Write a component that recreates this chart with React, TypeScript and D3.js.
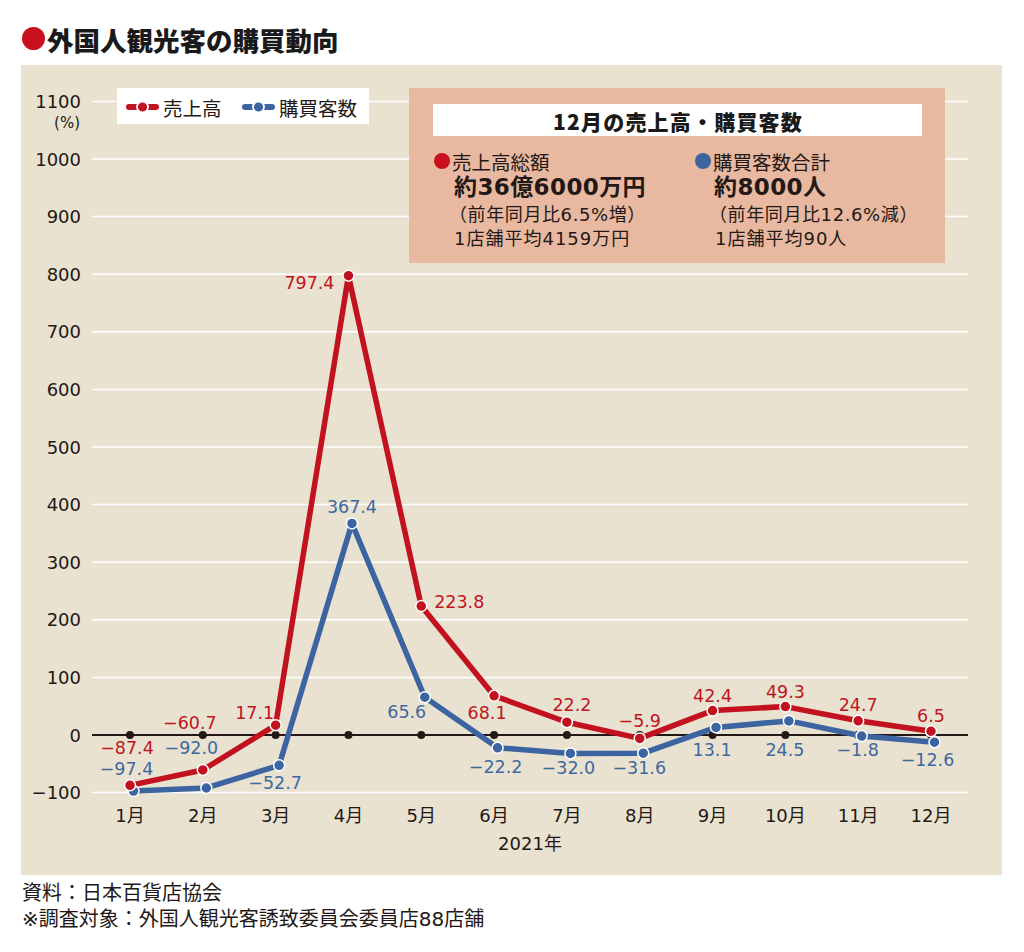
import React from "react";
import * as d3 from "d3";

const months = ["1月", "2月", "3月", "4月", "5月", "6月", "7月", "8月", "9月", "10月", "11月", "12月"];
const salesValues = [-87.4, -60.7, 17.1, 797.4, 223.8, 68.1, 22.2, -5.9, 42.4, 49.3, 24.7, 6.5];
const customerValues = [-97.4, -92.0, -52.7, 367.4, 65.6, -22.2, -32.0, -31.6, 13.1, 24.5, -1.8, -12.6];
const yTicks = [-100, 0, 100, 200, 300, 400, 500, 600, 700, 800, 900, 1000, 1100];
const seriesNames = ["売上高", "購買客数"];

// label placement offsets (dx, dy) relative to each point
const salesLabelOffsets: [number, number][] = [
  [-3, -37.5], [-13, -47], [-21, -12], [-39, 7], [38, -4], [-7, 17],
  [5, -17], [0, -17], [0, -15], [0, -15], [0, -16], [0, -15],
];
const customerLabelOffsets: [number, number][] = [
  [-7, -22], [-15, -40], [-4, 18], [0, -16], [-18, 15], [-2, 19],
  [-2, 15], [-4, 15], [-4, 23], [-4, 29], [-4, 14], [-7, 18],
];

const RED = "#c2111f";
const BLUE = "#3b64a0";
const RED_TXT = "#c0141e";
const BLUE_TXT = "#3f689f";
const NUM_FONT = "'DejaVu Sans', 'Noto Sans CJK JP', sans-serif";
const JP_FONT = "'Noto Sans CJK JP', sans-serif";

function fmt(v: number) {
  const s = Math.abs(v).toFixed(1);
  return v < 0 ? "−" + s : s;
}

export default function App() {
  const x = d3.scalePoint<string>().domain(months).range([130, 931]);
  const y = d3.scaleLinear().domain([-100, 1100]).range([792.6, 101.4]);
  const blueShift = 3.5;

  const redLine = d3
    .line<number>()
    .x((_, i) => x(months[i]) as number)
    .y((d) => y(d));
  const blueLine = d3
    .line<number>()
    .x((_, i) => (x(months[i]) as number) + blueShift)
    .y((d) => y(d));

  const gridLeft = 92;
  const gridRight = 968;

  return (
    <svg
      width={1024}
      height={952}
      style={{ position: "absolute", left: 0, top: 0, background: "#ffffff" }}
    >
      <rect x={0} y={0} width={1024} height={952} fill="#ffffff" />
      {/* Title */}
      <circle cx={33.5} cy={38.5} r={11.5} fill="#c9101c" />
      <text
        x={47}
        y={39}
        dominantBaseline="central"
        fontFamily={JP_FONT}
        fontWeight={900}
        fontSize={26.5}
        fill="#1a1a1a"
      >
        外国人観光客の購買動向
      </text>

      {/* Panel */}
      <rect x={21} y={65} width={981} height={810} fill="#e9e2d0" />

      {/* Grid */}
      {yTicks.filter((t) => t !== 0).map((t) => (
        <line key={t} x1={gridLeft} x2={gridRight} y1={y(t)} y2={y(t)} stroke="#ffffff" strokeWidth={1.5} />
      ))}
      {yTicks.map((t) => (
        <text
          key={"yl" + t}
          x={81}
          y={y(t)}
          textAnchor="end"
          dominantBaseline="central"
          fontFamily={NUM_FONT}
          fontSize={18}
          fill="#231815"
        >
          {t < 0 ? "−" + Math.abs(t) : String(t)}
        </text>
      ))}
      <text x={80} y={123} textAnchor="end" dominantBaseline="central" fontFamily={NUM_FONT} fontSize={15} fill="#231815">
        (%)
      </text>

      {/* Legend */}
      <rect x={117} y={88} width={252} height={36} fill="#ffffff" />
      {[RED, BLUE].map((c, i) => {
        const lx = i === 0 ? 127 : 243;
        return (
          <g key={"lg" + i}>
            <line x1={lx + 2} x2={lx + 29} y1={107} y2={107} stroke={c} strokeWidth={6} strokeLinecap="round" />
            <circle cx={lx + 15.5} cy={107} r={5.5} fill={c} stroke="#ffffff" strokeWidth={1.8} />
            <text
              x={lx + 36}
              y={107}
              dominantBaseline="central"
              fontFamily={JP_FONT}
              fontSize={19.5}
              fill="#231815"
            >
              {seriesNames[i]}
            </text>
          </g>
        );
      })}

      {/* Info box */}
      <rect x={409} y={88} width={536} height={175} fill="#e8b9a0" />
      <rect x={433} y={104} width={489} height={32} fill="#ffffff" />
      <text
        x={678}
        y={120.5}
        textAnchor="middle"
        dominantBaseline="central"
        fontFamily={NUM_FONT}
        fontWeight={700}
        fontSize={21}
        fill="#1a1a1a"
      >
        <tspan fontFamily={JP_FONT} fontWeight={900} letterSpacing={1.2}>12月の売上高・購買客数</tspan>
      </text>

      <circle cx={442} cy={161} r={8} fill="#c9101c" />
      <text x={452} y={161} dominantBaseline="central" fontFamily={JP_FONT} fontSize={19.5} fill="#231815">
        売上高総額
      </text>
      <text
        x={454}
        y={187}
        dominantBaseline="central"
        fontFamily={NUM_FONT}
        fontWeight={700}
        fontSize={23}
        letterSpacing={0.4}
        fill="#231815"
      >
        約36億6000万円
      </text>
      <text x={449} y={214} dominantBaseline="central" fontFamily={NUM_FONT} fontSize={18} letterSpacing={0.6} fill="#231815">
        （前年同月比6.5%増）
      </text>
      <text x={454} y={238} dominantBaseline="central" fontFamily={NUM_FONT} fontSize={18} letterSpacing={1} fill="#231815">
        1店舗平均4159万円
      </text>

      <circle cx={703} cy={161} r={8} fill="#3b64a0" />
      <text x={713} y={161} dominantBaseline="central" fontFamily={JP_FONT} fontSize={19.5} fill="#231815">
        購買客数合計
      </text>
      <text
        x={714}
        y={187}
        dominantBaseline="central"
        fontFamily={NUM_FONT}
        fontWeight={700}
        fontSize={23}
        letterSpacing={0.4}
        fill="#231815"
      >
        約8000人
      </text>
      <text x={709} y={214} dominantBaseline="central" fontFamily={NUM_FONT} fontSize={18} letterSpacing={0.6} fill="#231815">
        （前年同月比12.6%減）
      </text>
      <text x={715} y={238} dominantBaseline="central" fontFamily={NUM_FONT} fontSize={18} letterSpacing={1} fill="#231815">
        1店舗平均90人
      </text>

      {/* Zero line with tick dots */}
      <line x1={gridLeft} x2={gridRight} y1={y(0)} y2={y(0)} stroke="#231815" strokeWidth={2} />
      {months.map((m) => (
        <circle key={"td" + m} cx={x(m)} cy={y(0)} r={4} fill="#231815" />
      ))}

      {/* X labels */}
      {months.map((m) => (
        <text
          key={"xl" + m}
          x={x(m)}
          y={815}
          textAnchor="middle"
          dominantBaseline="central"
          fontFamily={NUM_FONT}
          fontSize={18}
          fill="#231815"
        >
          {m}
        </text>
      ))}
      <text x={530} y={843} textAnchor="middle" dominantBaseline="central" fontFamily={NUM_FONT} fontSize={18} fill="#231815">
        2021年
      </text>

      {/* Lines */}
      <path d={blueLine(customerValues) || ""} fill="none" stroke={BLUE} strokeWidth={5.5} strokeLinejoin="round" />
      <path d={redLine(salesValues) || ""} fill="none" stroke={RED} strokeWidth={5.5} strokeLinejoin="round" />

      {customerValues.map((v, i) => (
        <circle
          key={"bp" + i}
          cx={(x(months[i]) as number) + blueShift}
          cy={y(v)}
          r={5.5}
          fill={BLUE}
          stroke="#ffffff"
          strokeWidth={1.5}
        />
      ))}
      {salesValues.map((v, i) => (
        <circle key={"rp" + i} cx={x(months[i])} cy={y(v)} r={5.5} fill={RED} stroke="#ffffff" strokeWidth={1.5} />
      ))}

      {/* Value labels */}
      {salesValues.map((v, i) => (
        <text
          key={"rl" + i}
          x={(x(months[i]) as number) + salesLabelOffsets[i][0]}
          y={y(v) + salesLabelOffsets[i][1]}
          textAnchor="middle"
          dominantBaseline="central"
          fontFamily={NUM_FONT}
          fontSize={17.5}
          fill={RED_TXT}
        >
          {fmt(v)}
        </text>
      ))}
      {customerValues.map((v, i) => (
        <text
          key={"bl" + i}
          x={(x(months[i]) as number) + blueShift + customerLabelOffsets[i][0]}
          y={y(v) + customerLabelOffsets[i][1]}
          textAnchor="middle"
          dominantBaseline="central"
          fontFamily={NUM_FONT}
          fontSize={17.5}
          fill={BLUE_TXT}
        >
          {fmt(v)}
        </text>
      ))}

      {/* Footnotes */}
      <text x={22} y={893} dominantBaseline="central" fontFamily={NUM_FONT} fontSize={20} fill="#231815">
        資料：日本百貨店協会
      </text>
      <text x={22} y={919} dominantBaseline="central" fontFamily={NUM_FONT} fontSize={20} fill="#231815">
        ※調査対象：外国人観光客誘致委員会委員店88店舗
      </text>
    </svg>
  );
}
